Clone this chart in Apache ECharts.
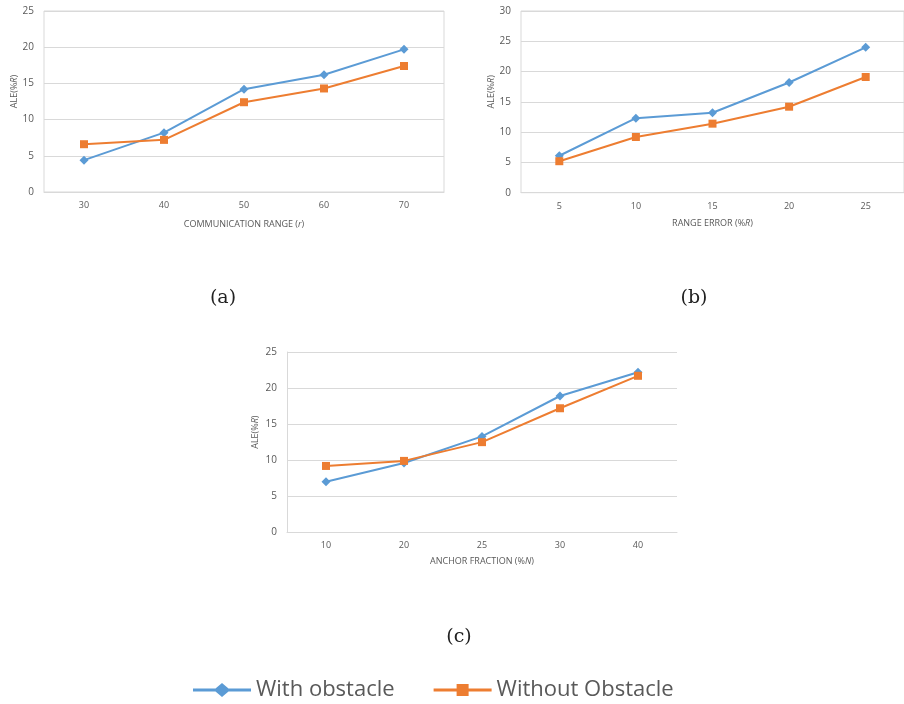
<!DOCTYPE html>
<html>
<head>
<meta charset="utf-8">
<script src="https://cdn.jsdelivr.net/npm/echarts@6/dist/echarts.min.js"></script>
<style>html,body{margin:0;padding:0;background:#fff;}#c{width:904px;height:704px;}</style>
</head>
<body>
<div id="c"></div>
<script>
// Data
const catA = ['30', '40', '50', '60', '70'];
const withA = [4.4, 8.2, 14.2, 16.2, 19.7];
const withoutA = [6.6, 7.2, 12.4, 14.3, 17.4];

const catB = ['5', '10', '15', '20', '25'];
const withB = [6.1, 12.3, 13.2, 18.2, 24.0];
const withoutB = [5.2, 9.2, 11.4, 14.2, 19.1];

const catC = ['10', '20', '25', '30', '40'];
const withC = [7.0, 9.6, 13.3, 18.9, 22.2];
const withoutC = [9.2, 9.9, 12.5, 17.2, 21.7];

const yTicksA = [0, 25, 5];
const yTicksB = [0, 30, 5];
const yTicksC = [0, 25, 5];

const seriesNames = ['With obstacle', 'Without Obstacle'];
const captions = ['(a)', '(b)', '(c)'];
const xTitles = ['COMMUNICATION RANGE ({i|r})', 'RANGE ERROR (%{i|R})', 'ANCHOR FRACTION (%{i|N})'];
const yTitle = 'ALE(%{i|R})';

const BLUE = '#5B9BD5', ORANGE = '#ED7D31', GRID = '#D9D9D9', TXT = '#595959';
const FONT = 'Open Sans';

const rich = { i: { fontStyle: 'italic', fontSize: 9, color: TXT, fontFamily: FONT } };

function xAx(idx, cats, title, gap) {
  return {
    type: 'category', gridIndex: idx, data: cats, boundaryGap: true,
    axisTick: { show: false },
    axisLine: { lineStyle: { color: GRID, width: 1 } },
    axisLabel: { color: TXT, fontSize: 9, fontFamily: FONT, margin: 9 },
    name: title, nameLocation: 'middle', nameGap: gap,
    nameTextStyle: { color: TXT, fontSize: 9, fontFamily: FONT, rich: rich }
  };
}
function yAx(idx, t, gap, showLine) {
  return {
    type: 'value', gridIndex: idx, min: t[0], max: t[1], interval: t[2],
    axisLine: { show: showLine, lineStyle: { color: GRID, width: 1 } },
    axisTick: { show: false },
    splitLine: { lineStyle: { color: GRID, width: 1 } },
    axisLabel: { color: TXT, fontSize: 10, fontFamily: FONT, margin: 10 },
    name: yTitle, nameLocation: 'middle', nameGap: gap,
    nameTextStyle: { color: TXT, fontSize: 9, fontFamily: FONT, rich: rich, padding: [0, 0, 0, 20] }
  };
}
function ser(name, idx, data) {
  const blue = name === seriesNames[0];
  return {
    type: 'line', name: name, xAxisIndex: idx, yAxisIndex: idx, data: data,
    symbol: blue ? 'diamond' : 'rect', symbolSize: blue ? 9 : 8,
    lineStyle: { color: blue ? BLUE : ORANGE, width: 2 },
    itemStyle: { color: blue ? BLUE : ORANGE },
    z: blue ? 2 : 3, animation: false
  };
}

const iconDiamond = 'path://M0,5.5 L22.5,5.5 L29,0 L35.5,5.5 L58,5.5 L58,8.5 L35.5,8.5 L29,14 L22.5,8.5 L0,8.5 Z';
const iconSquare = 'path://M0,5.5 L23,5.5 L23,1 L35,1 L35,5.5 L58,5.5 L58,8.5 L35,8.5 L35,13 L23,13 L23,8.5 L0,8.5 Z';
const capStyle = { fontFamily: 'DejaVu Serif', fontWeight: 'normal', fontSize: 19, color: '#222' };

const chart = echarts.init(document.getElementById('c'), null, { renderer: 'canvas' });
chart.setOption({
  animation: false,
  backgroundColor: '#fff',
  title: [
    { text: captions[0], left: 218, top: 293, textAlign: 'center', textVerticalAlign: 'middle', textStyle: capStyle },
    { text: captions[1], left: 689, top: 293, textAlign: 'center', textVerticalAlign: 'middle', textStyle: capStyle },
    { text: captions[2], left: 454, top: 632, textAlign: 'center', textVerticalAlign: 'middle', textStyle: capStyle }
  ],
  legend: {
    data: [{ name: seriesNames[0], icon: iconDiamond }, { name: seriesNames[1], icon: iconSquare }],
    left: 193, top: 679, padding: 0, itemWidth: 58, itemHeight: 14, itemGap: 39,
    textStyle: { color: TXT, fontSize: 22, fontFamily: FONT }
  },
  grid: [
    { left: 44, top: 11, width: 400, height: 181, show: true, borderColor: GRID, borderWidth: 1 },
    { left: 521, top: 11, width: 391, height: 181.7, show: true, borderColor: GRID, borderWidth: 1 },
    { left: 287, top: 352, width: 390, height: 180.3 }
  ],
  xAxis: [xAx(0, catA, xTitles[0], 28), xAx(1, catB, xTitles[1], 26), xAx(2, catC, xTitles[2], 25)],
  yAxis: [yAx(0, yTicksA, 25, false), yAx(1, yTicksB, 25, false), yAx(2, yTicksC, 27, true)],
  series: [
    ser(seriesNames[0], 0, withA), ser(seriesNames[1], 0, withoutA),
    ser(seriesNames[0], 1, withB), ser(seriesNames[1], 1, withoutB),
    ser(seriesNames[0], 2, withC), ser(seriesNames[1], 2, withoutC)
  ]
});
</script>
</body>
</html>
